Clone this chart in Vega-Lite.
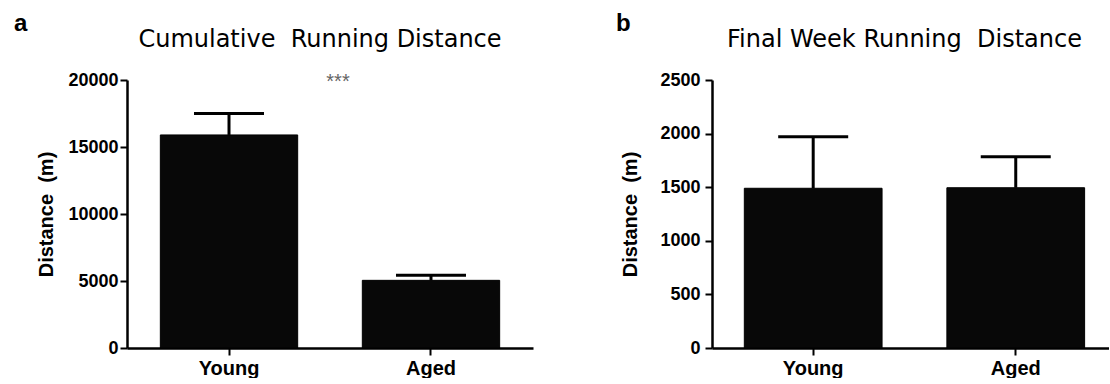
{
  "$schema": "https://vega.github.io/schema/vega-lite/v6.json",
  "background": "white",
  "padding": {"left": 13, "top": 12, "right": 0, "bottom": 0},
  "spacing": 82,
  "config": {
    "view": {"stroke": null},
    "font": "Liberation Sans",
    "axis": {
      "grid": false,
      "domainColor": "black",
      "domainWidth": 2.5,
      "tickColor": "black",
      "tickWidth": 2,
      "tickSize": 7,
      "labelFont": "Liberation Sans",
      "labelFontWeight": "bold",
      "labelColor": "black",
      "titleFont": "Liberation Sans",
      "titleFontWeight": "bold",
      "titleColor": "black"
    },
    "title": {"color": "black"}
  },
  "datasets": {
    "cumulative": [
      {"group": "Young", "mean": 15900, "upper": 17500},
      {"group": "Aged", "mean": 5050, "upper": 5430}
    ],
    "finalweek": [
      {"group": "Young", "mean": 1490, "upper": 1970},
      {"group": "Aged", "mean": 1495, "upper": 1785}
    ],
    "signif": [
      {"group": "Young", "y": 20000, "label": "***"}
    ]
  },
  "hconcat": [
    {
      "title": {"text": "a", "anchor": "start", "frame": "bounds", "font": "Liberation Sans", "fontSize": 24, "fontWeight": "bold", "dx": -23, "offset": -8},
      "hconcat": [
        {
          "width": 406,
          "height": 268,
          "title": {"text": "Cumulative\u00a0\u00a0Running Distance", "font": "DejaVu Sans", "fontSize": 24, "fontWeight": "normal", "anchor": "middle", "dx": -10, "baseline": "alphabetic", "offset": 0},
          "layer": [
            {
              "data": {"name": "cumulative"},
              "mark": {"type": "bar", "color": "#080808", "stroke": "black", "strokeWidth": 1},
              "encoding": {
                "x": {"field": "group", "type": "nominal", "sort": ["Young", "Aged"],
                      "scale": {"paddingInner": 0.32, "paddingOuter": 0.165},
                      "axis": {"title": null, "labelAngle": 0, "labelFontSize": 20, "labelPadding": 3}},
                "y": {"field": "mean", "type": "quantitative",
                      "scale": {"domain": [0, 20000], "nice": false},
                      "axis": {"title": "Distance\u00a0\u00a0(m)", "values": [0, 5000, 10000, 15000, 20000], "format": "d", "labelFontSize": 18, "labelPadding": 2, "titleFontSize": 20, "titlePadding": 11}}
              }
            },
            {
              "data": {"name": "cumulative"},
              "mark": {"type": "rule", "color": "black", "strokeWidth": 3},
              "encoding": {
                "x": {"field": "group", "type": "nominal", "sort": ["Young", "Aged"]},
                "y": {"field": "mean", "type": "quantitative"},
                "y2": {"field": "upper"}
              }
            },
            {
              "data": {"name": "cumulative"},
              "mark": {"type": "tick", "color": "black", "opacity": 1, "thickness": 3, "size": 70, "orient": "horizontal"},
              "encoding": {
                "x": {"field": "group", "type": "nominal", "sort": ["Young", "Aged"]},
                "y": {"field": "upper", "type": "quantitative"}
              }
            },
            {
              "data": {"name": "signif"},
              "mark": {"type": "text", "font": "Liberation Sans", "fontSize": 20, "color": "#666666", "baseline": "alphabetic", "dx": 109, "dy": 8},
              "encoding": {
                "x": {"field": "group", "type": "nominal", "sort": ["Young", "Aged"]},
                "y": {"field": "y", "type": "quantitative"},
                "text": {"field": "label"}
              }
            }
          ]
        }
      ]
    },
    {
      "title": {"text": "b", "anchor": "start", "frame": "bounds", "font": "Liberation Sans", "fontSize": 24, "fontWeight": "bold", "dx": -5, "offset": -8},
      "hconcat": [
        {
          "width": 397,
          "height": 268,
          "title": {"text": "Final Week Running\u00a0\u00a0Distance", "font": "DejaVu Sans", "fontSize": 24, "fontWeight": "normal", "anchor": "middle", "dx": -6, "baseline": "alphabetic", "offset": 0},
          "layer": [
            {
              "data": {"name": "finalweek"},
              "mark": {"type": "bar", "color": "#080808", "stroke": "black", "strokeWidth": 1},
              "encoding": {
                "x": {"field": "group", "type": "nominal", "sort": ["Young", "Aged"],
                      "scale": {"paddingInner": 0.32, "paddingOuter": 0.14, "align": 0.57},
                      "axis": {"title": null, "labelAngle": 0, "labelFontSize": 20, "labelPadding": 3}},
                "y": {"field": "mean", "type": "quantitative",
                      "scale": {"domain": [0, 2500], "nice": false},
                      "axis": {"title": "Distance\u00a0\u00a0(m)", "values": [0, 500, 1000, 1500, 2000, 2500], "format": "d", "labelFontSize": 18, "labelPadding": 5, "titleFontSize": 20, "titlePadding": 19}}
              }
            },
            {
              "data": {"name": "finalweek"},
              "mark": {"type": "rule", "color": "black", "strokeWidth": 3},
              "encoding": {
                "x": {"field": "group", "type": "nominal", "sort": ["Young", "Aged"]},
                "y": {"field": "mean", "type": "quantitative"},
                "y2": {"field": "upper"}
              }
            },
            {
              "data": {"name": "finalweek"},
              "mark": {"type": "tick", "color": "black", "opacity": 1, "thickness": 3, "size": 70, "orient": "horizontal"},
              "encoding": {
                "x": {"field": "group", "type": "nominal", "sort": ["Young", "Aged"]},
                "y": {"field": "upper", "type": "quantitative"}
              }
            }
          ]
        }
      ]
    }
  ]
}
